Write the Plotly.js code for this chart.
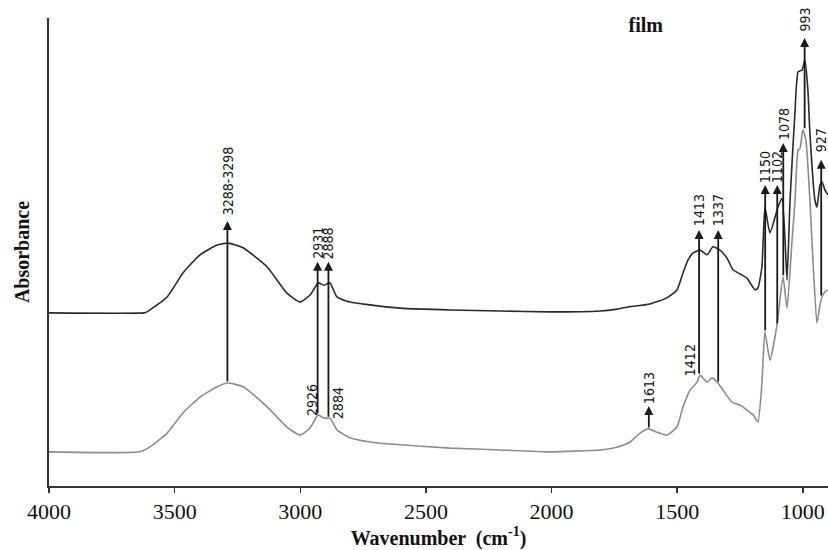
<!DOCTYPE html>
<html>
<head>
<meta charset="utf-8">
<script src="https://cdn.plot.ly/plotly-3.0.1.min.js"></script>
<style>html,body{margin:0;padding:0;background:#fff;}#chart{width:828px;height:550px;}</style>
</head>
<body>
<div id="chart"></div>
<script>
// Film spectrum (upper, dark)
const topWn  = [4000, 3622, 3610, 3530, 3467, 3399, 3331, 3288, 3228, 3132, 3053, 3001, 2961, 2929, 2906, 2882, 2854, 2802, 2723, 2603, 2404, 2205, 2006, 1807, 1740, 1700, 1608, 1541, 1501, 1477, 1457, 1437, 1409, 1381, 1358, 1330, 1302, 1278, 1250, 1222, 1210, 1190, 1179, 1163, 1151, 1131, 1099, 1083, 1071, 1063, 1051, 1031, 1019, 1003, 992, 980, 972, 952, 944, 932, 924, 912, 900];
const topAbs = [37.0, 37.0, 37.2, 40.4, 45.5, 49.4, 51.5, 51.9, 50.9, 46.8, 41.2, 39.3, 40.8, 43.4, 42.9, 43.4, 40.4, 39.3, 38.7, 38.0, 37.6, 37.4, 37.2, 37.4, 37.8, 38.2, 38.9, 40.2, 41.9, 45.5, 48.3, 49.8, 50.4, 49.4, 51.1, 50.4, 48.7, 46.2, 45.3, 44.4, 43.4, 41.9, 42.3, 46.8, 59.6, 54.1, 59.6, 61.5, 52.6, 44.0, 61.1, 80.3, 88.5, 88.9, 91.0, 84.6, 75.4, 61.1, 59.6, 64.3, 65.0, 63.2, 62.2];

// Lower spectrum (grey)
const lowWn  = [4000, 3640, 3600, 3530, 3467, 3399, 3331, 3288, 3228, 3132, 3053, 3001, 2961, 2929, 2906, 2882, 2854, 2802, 2723, 2603, 2404, 2205, 2006, 1807, 1740, 1688, 1648, 1616, 1580, 1541, 1501, 1477, 1449, 1421, 1409, 1381, 1362, 1338, 1318, 1282, 1250, 1222, 1198, 1179, 1163, 1151, 1131, 1103, 1079, 1063, 1043, 1031, 1019, 1011, 1000, 988, 972, 960, 944, 932, 924, 912, 900];
const lowAbs = [7.3, 7.3, 8.3, 11.3, 15.6, 19.0, 21.2, 22.0, 21.2, 16.9, 12.6, 10.9, 12.4, 15.2, 14.5, 14.5, 12.0, 10.3, 9.4, 8.8, 8.1, 7.7, 7.3, 7.7, 8.3, 9.4, 11.3, 12.2, 11.5, 10.9, 12.6, 16.9, 20.5, 22.2, 23.7, 22.2, 23.1, 22.0, 20.5, 17.9, 17.3, 16.2, 15.2, 13.7, 22.0, 32.9, 26.9, 34.4, 44.7, 38.0, 52.6, 61.1, 71.8, 72.2, 76.1, 73.9, 61.1, 48.3, 34.8, 38.7, 40.4, 41.5, 41.9];

const tickVals = [4000, 3500, 3000, 2500, 2000, 1500, 1000];

// Peak arrows: label, wavenumber, absorbance at tail (lower curve) and head
const arrowLabels = ['3288-3298', '2931', '2888', '1413', '1337', '1613', '1150', '1102', '1078', '993', '927'];
const arrowWn     = [3290, 2931, 2888, 1413, 1337, 1613, 1150, 1102, 1078, 993, 927];
const arrowFrom   = [22.0, 15.2, 14.5, 23.7, 22.0, 12.2, 32.9, 34.4, 44.7, 76.1, 40.4];
const arrowTo     = [56.6, 47.9, 47.9, 54.7, 54.7, 17.1, 64.3, 64.3, 73.3, 95.7, 69.7];
const arrowLabelY = [65.2, 51.9, 51.9, 59.0, 59.0, 20.9, 68.2, 68.2, 77.4, 99.6, 73.9];

// Extra labels for the lower spectrum
const noteLabels = ['2926', '2884', '1412'];
const noteWn     = [2953, 2850, 1449];
const noteY      = [18.4, 17.7, 26.9];

const labelFont = {family: '"Liberation Sans Narrow", "DejaVu Sans Condensed", "Liberation Sans", sans-serif', size: 14, color: '#111'};

const annotations = [];
arrowWn.forEach((w, i) => {
  annotations.push({
    x: w, y: arrowTo[i], ax: w, ay: arrowFrom[i], xref: 'x', yref: 'y', axref: 'x', ayref: 'y',
    text: '', showarrow: true, arrowhead: 2, arrowsize: 1, arrowwidth: 1.8, arrowcolor: '#1a1a1a', standoff: 0, startstandoff: 0
  });
  annotations.push({
    x: w, y: arrowLabelY[i], xref: 'x', yref: 'y', text: arrowLabels[i], showarrow: false,
    textangle: -90, xanchor: 'center', yanchor: 'middle', font: labelFont
  });
});
noteWn.forEach((w, i) => {
  annotations.push({
    x: w, y: noteY[i], xref: 'x', yref: 'y', text: noteLabels[i], showarrow: false,
    textangle: -90, xanchor: 'center', yanchor: 'middle', font: labelFont
  });
});

const traces = [
  {x: topWn, y: topAbs, type: 'scatter', mode: 'lines', line: {color: '#2a2a2a', width: 1.6, shape: 'spline', smoothing: 0.5}, showlegend: false, hoverinfo: 'skip'},
  {x: lowWn, y: lowAbs, type: 'scatter', mode: 'lines', line: {color: '#8c8c8c', width: 1.6, shape: 'spline', smoothing: 0.5}, showlegend: false, hoverinfo: 'skip'}
];

const serif = '"Liberation Serif", "Times New Roman", serif';
const layout = {
  width: 828, height: 550,
  margin: {l: 49, r: 0, t: 18, b: 64},
  paper_bgcolor: '#fff', plot_bgcolor: '#fff',
  title: {text: '<b>film</b>', x: 0.766, xref: 'paper', y: 0.955, yref: 'container', xanchor: 'center', yanchor: 'middle', font: {family: serif, size: 20, color: '#111'}},
  xaxis: {
    range: [4000, 900], tickvals: tickVals, ticktext: tickVals.map(String),
    showline: true, linecolor: '#333', linewidth: 2, mirror: false,
    ticks: 'outside', ticklen: 5, tickcolor: '#333', tickwidth: 1.5,
    showgrid: false, zeroline: false, ticklabelstandoff: 0,
    tickfont: {family: serif, size: 22, color: '#111'},
    title: {text: '<b>Wavenumber  (cm<sup>-1</sup>)</b>', font: {family: serif, size: 20, color: '#111'}, standoff: 6}
  },
  yaxis: {
    range: [0, 100], showline: true, linecolor: '#333', linewidth: 2,
    showticklabels: false, ticks: '', showgrid: false, zeroline: false,
    title: {text: '<b>Absorbance</b>', font: {family: serif, size: 20, color: '#111'}, standoff: 12}
  },
  annotations: annotations
};

Plotly.newPlot('chart', traces, layout, {displayModeBar: false, staticPlot: true});
</script>
</body>
</html>
